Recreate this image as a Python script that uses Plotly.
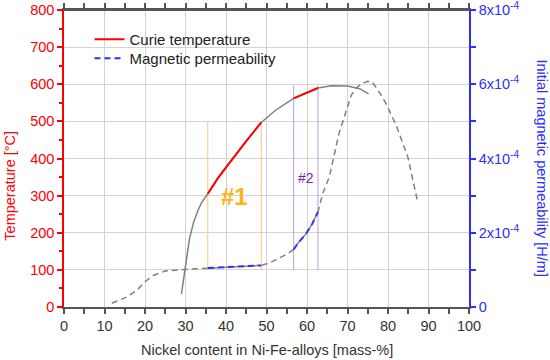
import plotly.graph_objects as go

# ---- data ----
nickel_curie = [29, 29.5, 30, 31, 32, 33, 34, 35.5, 38, 40, 42, 45, 48.7, 52, 54.7, 56.7, 60, 62.7, 66, 70, 73, 75.2]
curie_temp = [35, 70, 105, 185, 228, 258, 282, 305, 347, 376, 405, 447, 497, 528, 548, 562, 578, 590, 596, 595, 588, 574]

nickel_perm = [11.8, 13.5, 15.5, 18, 20, 22, 25, 28, 30, 35.5, 40, 45, 48.7, 51, 53, 55, 56.7, 57.7, 59.8, 61.2, 62.7,
               63.9, 65.5, 67.9, 70.9, 72.1, 73.5, 75, 76, 77.5, 79.5, 82, 84.9, 87.4]
permeability = [0.10e-4, 0.17e-4, 0.27e-4, 0.45e-4, 0.68e-4, 0.85e-4, 0.97e-4, 1.00e-4, 1.01e-4, 1.05e-4, 1.07e-4,
                1.09e-4, 1.12e-4, 1.20e-4, 1.30e-4, 1.42e-4, 1.55e-4, 1.71e-4, 1.98e-4, 2.22e-4, 2.56e-4,
                3.06e-4, 3.50e-4, 4.67e-4, 5.70e-4, 5.89e-4, 6.02e-4, 6.08e-4, 6.07e-4, 5.85e-4, 5.48e-4,
                4.90e-4, 4.04e-4, 2.79e-4]

# highlighted composition ranges: (x_start, x_end, y_bottom, y_top)
region1 = [35.5, 48.7, 100, 500]
region2 = [56.7, 62.7, 100, 597]

label1 = ("#1", 42.1, 298)
label2 = ("#2", 59.8, 347)

x_ticks = list(range(0, 101, 10))
y2_tickvals = [0, 2e-4, 4e-4, 6e-4, 8e-4]
y2_ticktext = ["0", "2x10<sup>-4</sup>", "4x10<sup>-4</sup>", "6x10<sup>-4</sup>", "8x10<sup>-4</sup>"]

FONT = "Liberation Sans, Arial, sans-serif"
RED = "#FF0000"
BLUE = "#2E2EFF"
GRAY = "#808080"
AXIS = "#555555"


def segment(xs, ys, lo, hi):
    sx, sy = [], []
    for a, b in zip(xs, ys):
        if lo <= a <= hi:
            sx.append(a)
            sy.append(b)
    return sx, sy


fig = go.Figure()

# full gray curves
fig.add_trace(go.Scatter(x=nickel_curie, y=curie_temp, mode="lines",
                         line=dict(color=GRAY, width=1.5), showlegend=False, hoverinfo="skip"))
fig.add_trace(go.Scatter(x=nickel_perm, y=permeability, mode="lines", yaxis="y2",
                         line=dict(color=GRAY, width=1.5, dash="6px,4px"), showlegend=False, hoverinfo="skip"))

# highlighted segments
for i, reg in enumerate([region1, region2]):
    sx, sy = segment(nickel_curie, curie_temp, reg[0], reg[1])
    fig.add_trace(go.Scatter(x=sx, y=sy, mode="lines", line=dict(color=RED, width=2),
                             name="Curie temperature", showlegend=(i == 0), legend="legend"))
for i, reg in enumerate([region1, region2]):
    sx, sy = segment(nickel_perm, permeability, reg[0], reg[1])
    fig.add_trace(go.Scatter(x=sx, y=sy, mode="lines", yaxis="y2",
                             line=dict(color=BLUE, width=2, dash="6px,4px"),
                             name="Magnetic permeability", showlegend=(i == 0), legend="legend2"))

# white legend background, top frame line, vertical marker lines
shapes = [dict(type="rect", xref="paper", yref="paper", x0=0.049, x1=0.526, y0=0.801, y1=0.949,
               fillcolor="white", line=dict(width=0), layer="between"),
          dict(type="line", xref="paper", yref="paper", x0=0, x1=1, y0=1, y1=1,
               line=dict(color=AXIS, width=2), layer="above")]
for reg, col in [(region1, "#FFC27F"), (region2, "#C79BE6")]:
    for xv in reg[:2]:
        shapes.append(dict(type="line", xref="x", yref="y", x0=xv, x1=xv, y0=reg[2], y1=reg[3],
                           line=dict(color=col, width=1), layer="between"))

annotations = [
    dict(text=label1[0], x=label1[1], y=label1[2], xref="x", yref="y", showarrow=False,
         font=dict(family=FONT, size=24, color="#FDB515", weight="bold")),
    dict(text=label2[0], x=label2[1], y=label2[2], xref="x", yref="y", showarrow=False,
         font=dict(family=FONT, size=14, color="#7A1F9A")),
    dict(text="Temperature [°C]", x=-0.132, y=0.407, xref="paper", yref="paper", showarrow=False,
         xanchor="center", yanchor="middle",
         textangle=-90, font=dict(family=FONT, size=14.5, color=RED)),
    dict(text="Initial magnetic permeability [H/m]", x=1.18, y=0.467, xref="paper", yref="paper",
         xanchor="center", yanchor="middle",
         showarrow=False, textangle=90, font=dict(family=FONT, size=14.5, color=BLUE)),
    dict(text="Nickel content in Ni-Fe-alloys [mass-%]", x=0.5, y=-0.146, xref="paper", yref="paper",
         showarrow=False, yanchor="middle", font=dict(family=FONT, size=14.5, color="#333333")),
]

legend_common = dict(xanchor="left", yanchor="top", bgcolor="rgba(0,0,0,0)", borderwidth=0,
                     font=dict(family=FONT, size=15, color="#222222"))

fig.update_layout(
    width=550, height=360,
    margin=dict(l=64, r=81, t=10, b=53, pad=0, autoexpand=False),
    paper_bgcolor="white", plot_bgcolor="white",
    font=dict(family=FONT, size=14.5, color="#333333"),
    shapes=shapes, annotations=annotations,
    legend=dict(x=0.063, y=0.956, **legend_common),
    legend2=dict(x=0.063, y=0.892, **legend_common),
    xaxis=dict(range=[0, 100], tickvals=x_ticks, showgrid=True, gridcolor="#D3D3D3", gridwidth=1,
               zeroline=False, showline=True, linecolor=AXIS, linewidth=2, mirror="allticks",
               ticks="outside", ticklen=5, tickwidth=1.5, tickcolor=AXIS, automargin=False,
               minor=dict(dtick=5, ticks="outside", ticklen=3, tickcolor=AXIS, showgrid=False),
               tickfont=dict(family=FONT, size=14.5, color="#333333")),
    yaxis=dict(range=[0, 800], dtick=100, showgrid=True, gridcolor="#D3D3D3", gridwidth=1,
               zeroline=False, showline=True, linecolor=RED, linewidth=1.5, automargin=False,
               ticks="outside", ticklen=5, tickwidth=1.5, tickcolor=RED, ticklabeloverflow="allow",
               minor=dict(dtick=50, ticks="outside", ticklen=3, tickcolor=RED, showgrid=False),
               tickfont=dict(family=FONT, size=14.5, color=RED)),
    yaxis2=dict(range=[0, 8e-4], overlaying="y", side="right", tickvals=y2_tickvals, ticktext=y2_ticktext,
                showgrid=False, zeroline=False, showline=True, linecolor=BLUE, linewidth=1.5, automargin=False,
                ticks="outside", ticklen=5, tickwidth=1.5, tickcolor=BLUE, ticklabeloverflow="allow",
                minor=dict(dtick=1e-4, ticks="outside", ticklen=5, tickcolor=BLUE, showgrid=False),
                tickfont=dict(family=FONT, size=14.5, color=BLUE)),
)

fig.write_html("out.html", config={"displayModeBar": False},
               post_script="document.body.style.margin='0';")
